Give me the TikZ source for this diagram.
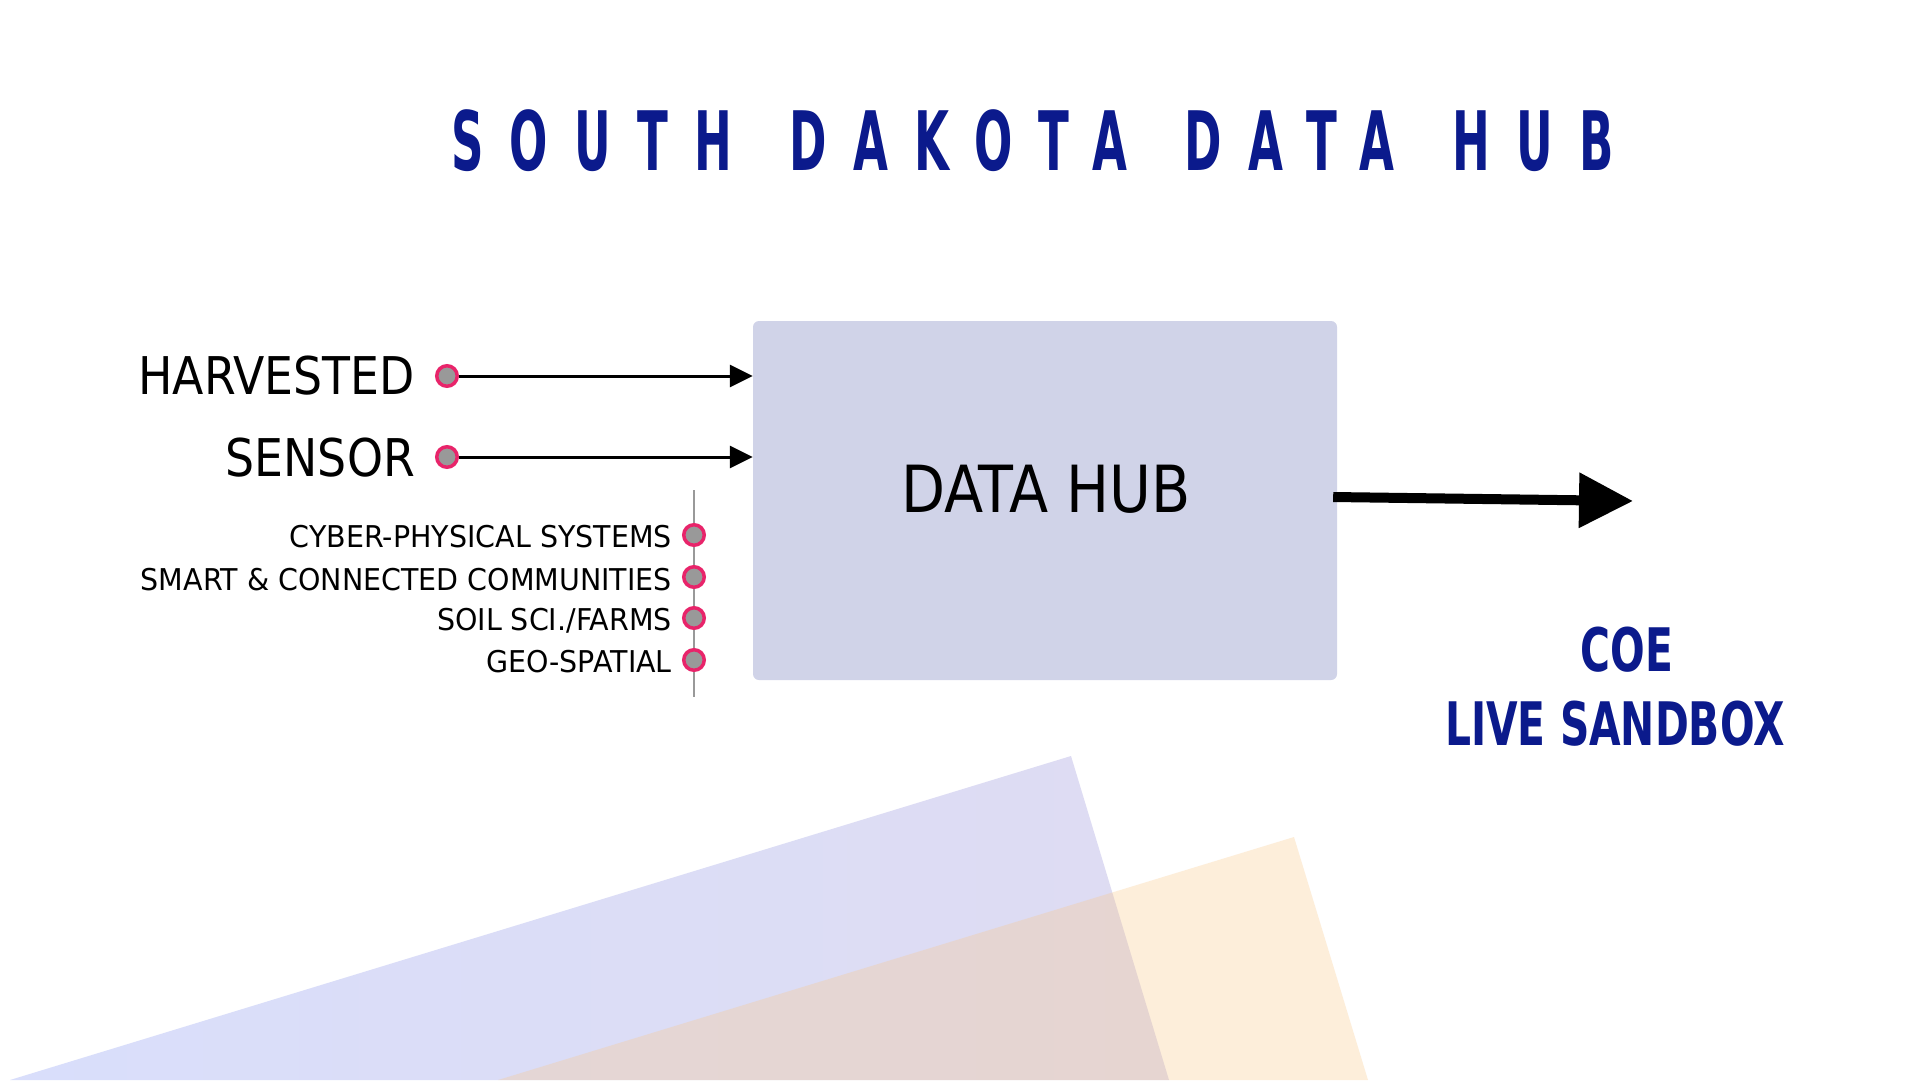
\documentclass[tikz,border=0pt]{standalone}
\usepackage{fontspec}
\usetikzlibrary{arrows.meta}
\definecolor{navy}{HTML}{0B1A8C}
\definecolor{hubfill}{HTML}{D0D3E8}
\definecolor{pinkring}{HTML}{E8246A}
\definecolor{dotgray}{HTML}{999999}
\definecolor{shblueA}{HTML}{D9DEFB}
\definecolor{shblueB}{HTML}{DEDCF2}
\definecolor{shorange}{RGB}{250,200,135}
\newfontfamily\titlef[FakeStretch=0.55,LetterSpace=32]{DejaVu Sans}
\newfontfamily\bodyf[FakeStretch=0.88]{DejaVu Sans}
\newfontfamily\smallf[FakeStretch=0.95]{DejaVu Sans}
\newfontfamily\coef[FakeStretch=0.68]{DejaVu Sans}
\newcommand{\tgap}{\hspace{16pt}}
\begin{document}
\begin{tikzpicture}[x=1pt,y=-1pt,
  hub/.style={rectangle, rounded corners=6pt, fill=hubfill, minimum width=584pt, minimum height=359pt, inner sep=0pt},
  dot/.style={circle, draw=pinkring, line width=3.5pt, fill=dotgray, minimum size=20.5pt, inner sep=0pt},
  inarrow/.style={line width=3pt, -{Triangle[length=23pt,width=22pt]}},
  outarrow/.style={line width=10pt, -{Triangle[length=54pt,width=53pt]}},
  biglabel/.style={inner sep=0pt, font=\bodyf\fontsize{52}{56}\selectfont},
  smalllabel/.style={inner sep=0pt, anchor=base east, font=\smallf\fontsize{30}{32}\selectfont},
  coelabel/.style={inner sep=0pt, anchor=base, text=navy, font=\coef\bfseries\fontsize{60}{64}\selectfont},
  spine/.style={draw=gray!80, line width=1.5pt}
]
\useasboundingbox (0,0) rectangle (1920,1080);
\fill[white] (0,0) rectangle (1920,1080);
% background tilted shapes
\path[left color=shblueA, right color=shblueB] (1071,756) -- (1169,1080) -- (10,1080) -- cycle;
\fill[shorange, opacity=0.3] (1294,837) -- (1368,1080) -- (498,1080) -- cycle;
% title
\node[anchor=base west, inner sep=0pt, text=navy, font=\titlef\bfseries\fontsize{82}{90}\selectfont] (title) at (451,170) {SOUTH\tgap{} DAKOTA\tgap{} DATA\tgap{} HUB};
% hub
\node[hub] (hub) at (1045,500.5) {};
\node[anchor=base, inner sep=0pt, font=\bodyf\fontsize{65}{70}\selectfont] (hubt) at (1046,512) {DATA HUB};
% main inputs
\node[biglabel, anchor=base east] (lh) at (415,394) {HARVESTED};
\node[biglabel, anchor=base east] (ls) at (415,476) {SENSOR};
\node[dot] (dh) at (447,376) {};
\node[dot] (ds) at (447,457) {};
\draw[inarrow] (dh) -- (dh -| hub.west);
\draw[inarrow] (ds) -- (ds -| hub.west);
% sensor sub-items
\coordinate (vt) at (694,490);
\coordinate (vb) at (694,697);
\draw[spine] (vt) -- (vb);
\node[dot] (d1) at (694,535) {};
\node[dot] (d2) at (694,577) {};
\node[dot] (d3) at (694,618) {};
\node[dot] (d4) at (694,660) {};
\node[smalllabel] (t1) at (672,547) {CYBER-PHYSICAL SYSTEMS};
\node[smalllabel] (t2) at (672,590) {SMART \& CONNECTED COMMUNITIES};
\node[smalllabel] (t3) at (672,630) {SOIL SCI./FARMS};
\node[smalllabel] (t4) at (672,672) {GEO-SPATIAL};
% output
\coordinate (outE) at (1633,501);
\draw[outarrow] ([xshift=-4pt,yshift=3.5pt]hub.east) -- (outE);
\node[coelabel] (coe) at (1627,671) {COE};
\node[coelabel] (sandbox) at (1615,745) {LIVE SANDBOX};
\end{tikzpicture}
\end{document}
